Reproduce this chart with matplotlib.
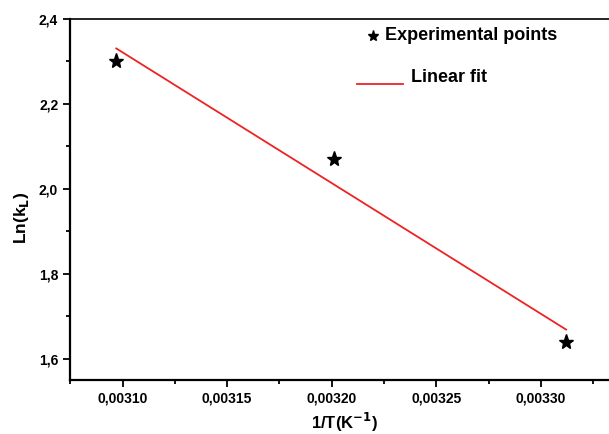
import matplotlib
matplotlib.use('Agg')
import matplotlib.pyplot as plt
import numpy as np
from matplotlib.ticker import FuncFormatter, MultipleLocator

inv_temp = [0.003097, 0.003201, 0.003312]
ln_kl = [2.30, 2.07, 1.64]

plt.rcParams['font.family'] = ['Liberation Sans', 'DejaVu Sans']
plt.rcParams['font.weight'] = 'bold'

fig = plt.figure(figsize=(6.09, 4.34), dpi=100)
ax = fig.add_axes([0.115, 0.1244, 0.885, 0.8318])

# lineare Regression ueber die Messpunkte
slope, intercept = np.polyfit(inv_temp, ln_kl, 1)
x_fit = np.array([inv_temp[0], inv_temp[-1]])
ax.plot(x_fit, slope * x_fit + intercept, color='#ee2222', lw=1.3, zorder=2)
ax.plot(inv_temp, ln_kl, ls='none', marker='*', ms=11, color='black', zorder=3)

ax.set_xlim(0.0030749, 0.0033325)
ax.set_ylim(1.55, 2.4)
ax.xaxis.set_major_locator(MultipleLocator(0.00005))
ax.xaxis.set_minor_locator(MultipleLocator(0.000025))
ax.yaxis.set_major_locator(MultipleLocator(0.2))
ax.yaxis.set_minor_locator(MultipleLocator(0.1))
ax.xaxis.set_major_formatter(FuncFormatter(lambda v, p: f'{v:.5f}'.replace('.', ',')))
ax.yaxis.set_major_formatter(FuncFormatter(lambda v, p: f'{v:.1f}'.replace('.', ',')))

ax.tick_params(which='both', direction='out', width=1.3, labelsize=10, top=False, right=False)
ax.tick_params(which='major', length=5)
ax.tick_params(which='minor', length=3)
for lbl in ax.get_xticklabels() + ax.get_yticklabels():
    lbl.set_fontweight('bold')

ax.spines['left'].set_linewidth(1.6)
ax.spines['bottom'].set_linewidth(1.6)
ax.spines['top'].set_linewidth(1.2)
ax.spines['right'].set_visible(False)

ax.set_xlabel(r'1/T(K$^{\mathbf{-1}}$)', fontsize=12, fontweight='bold')
ax.set_ylabel(r'Ln(k$_{\mathbf{L}}$)', fontsize=12.5, fontweight='bold')
ax.xaxis.set_label_coords(0.51, -0.085)
ax.yaxis.set_label_coords(-0.073, 0.45)

# Legende von Hand gesetzt
ax.plot([0.5625], [0.953], transform=ax.transAxes, marker='*', ms=8,
        color='black', clip_on=False)
ax.text(0.585, 0.953, 'Experimental points', transform=ax.transAxes,
        fontsize=13, fontweight='bold', va='center')
ax.plot([0.532, 0.617], [0.82, 0.82], transform=ax.transAxes,
        color='#ee2222', lw=1.3)
ax.text(0.632, 0.838, 'Linear fit', transform=ax.transAxes,
        fontsize=13, fontweight='bold', va='center')

fig.savefig('out.png', dpi=100)
